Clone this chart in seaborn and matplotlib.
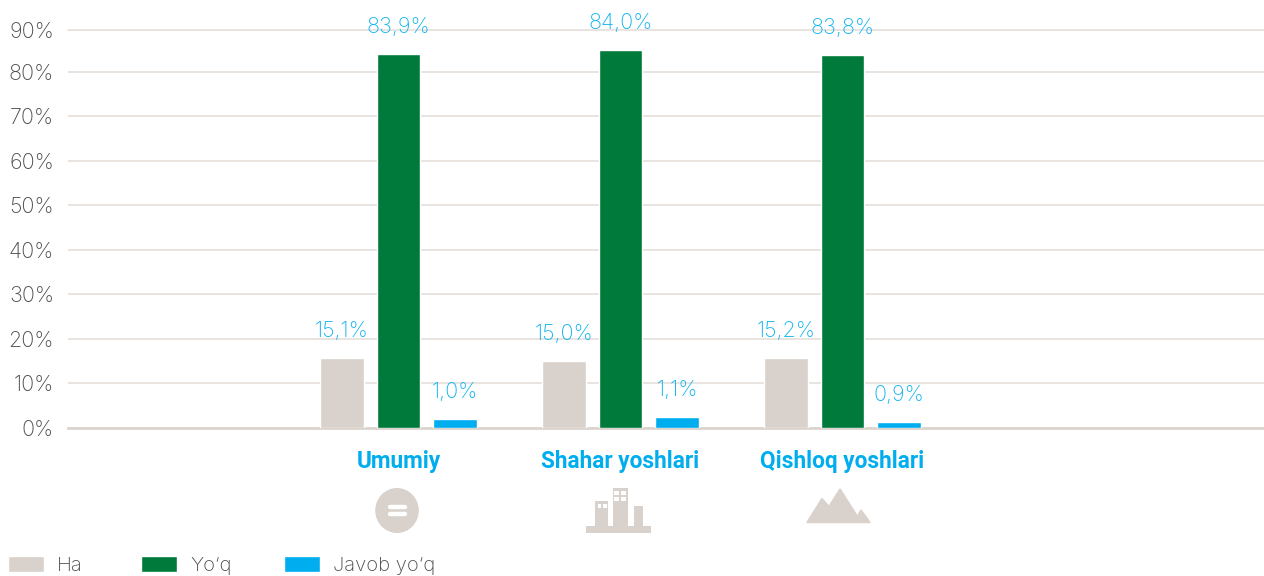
import matplotlib
matplotlib.use("Agg")
import matplotlib.pyplot as plt
import pandas as pd
import seaborn as sns
from matplotlib.lines import Line2D
from matplotlib.patches import Ellipse, Polygon, Rectangle
from matplotlib.transforms import Affine2D

categories = ["Umumiy", "Shahar yoshlari", "Qishloq yoshlari"]
series_names = ["Ha", "Yo‘q", "Javob yo‘q"]
ha_values = [15.6, 14.95, 15.6]
yoq_values = [83.9, 84.8, 83.7]
javob_values = [1.9, 2.4, 1.2]
ha_labels = ["15,1%", "15,0%", "15,2%"]
yoq_labels = ["83,9%", "84,0%", "83,8%"]
javob_labels = ["1,0%", "1,1%", "0,9%"]
y_tick_positions = [0, 10, 20, 30, 40, 50, 60, 70, 80, 89.33]
y_tick_labels = ["0%", "10%", "20%", "30%", "40%", "50%", "60%", "70%", "80%", "90%"]
colors = ["#d9d1cb", "#007a3a", "#00aeef"]

W, H = 1264, 576
sns.set_theme(style="white")
plt.rcParams["font.family"] = ["Inter", "DejaVu Sans"]
GREY, BLUE = "#4d4d4d", "#14b5f0"

df = pd.DataFrame({
    "cat": categories * 3,
    "series": [s for s in series_names for _ in categories],
    "value": ha_values + yoq_values + javob_values,
})

fig = plt.figure(figsize=(W / 100, H / 100), dpi=100)
L, R, T, B = 68, 1264, 30, 427.5
ax = fig.add_axes([L / W, 1 - B / H, (R - L) / W, (B - T) / H])
sns.barplot(data=df, x="cat", y="value", hue="series", order=categories,
            hue_order=series_names, palette=colors, width=0.7635, gap=0.235,
            saturation=1, ax=ax, errorbar=None, zorder=3)
ax.set_xlim((L - 398.5) / 222, (R - 398.5) / 222)
ax.set_ylim(0, 89.33)
ax.set_xlabel("")
ax.set_ylabel("")
ax.set_yticks(y_tick_positions, y_tick_labels)
ax.tick_params(axis="y", length=0, pad=10, labelsize=15.5, labelcolor=GREY)
ax.tick_params(axis="x", length=0, pad=16)
for lab in ax.get_xticklabels():
    lab.set(family="Roboto", weight="bold", size=16.3, color="#00aeef")
for lab in ax.get_yticklabels():
    lab.set_fontweight("light")
for s in ax.spines.values():
    s.set_visible(False)
ax.spines["bottom"].set(visible=True, color="#dcd4ce", linewidth=2)
ax.grid(axis="y", color="#e6dfda", linewidth=1.2, zorder=0)
ax.set_axisbelow(True)
ax.yaxis.get_gridlines()[-1].set_clip_on(False)

for cont, labs in zip(ax.containers, [ha_labels, yoq_labels, javob_labels]):
    ax.bar_label(cont, labels=labs, padding=12, fontsize=15.5, color=BLUE,
                 fontweight="light", annotation_clip=False)

fs = 14.5 * 100 / 72
handles, labels = ax.get_legend_handles_labels()
legend_x = [7.6, 141.2, 284.2]
for i, (h, lab, x) in enumerate(zip(handles, labels, legend_x)):
    leg = ax.legend([h], [lab], frameon=False, fontsize=14.5,
                    loc="lower left", bbox_to_anchor=(x / W, 1 / H),
                    bbox_transform=fig.transFigure, borderpad=0, borderaxespad=0,
                    handlelength=36 / fs, handleheight=16 / fs,
                    handletextpad=13 / fs, labelcolor=GREY)
    for t in leg.get_texts():
        t.set_fontweight("light")
    if i < len(handles) - 1:
        ax.add_artist(leg)

# Decorative icons, in reference pixel coordinates
px = Affine2D().scale(1, -1).translate(0, H)
def add(patch):
    patch.set_transform(px)
    fig.add_artist(patch)
TAN = "#d9d1cb"
add(Ellipse((397, 510.5), 43.5, 45, fc=TAN, ec="none"))
for y in (506.5, 514):
    add(Line2D([390, 405], [y, y], color="white", lw=3.2, solid_capstyle="round"))
for x, y, w, h in [(586, 526, 65, 7), (595, 501, 13, 26), (612.5, 488, 15, 39), (633.5, 506, 9.5, 21)]:
    add(Rectangle((x, y), w, h, fc=TAN, ec="none"))
for x, y, w, h in [(597.5, 504, 3.5, 4), (603, 504, 3.5, 4), (614, 491, 5, 4),
                   (621, 491, 5, 4), (614, 497, 5, 3.5), (621, 497, 5, 3.5)]:
    add(Rectangle((x, y), w, h, fc="white", ec="none"))
add(Polygon([(807.5, 522.2), (822, 499), (829, 507), (840, 489.5), (857.5, 517),
             (861, 510.5), (869.5, 522.2)], closed=True, fc=TAN, ec=TAN, lw=1.5,
            joinstyle="round"))

fig.savefig("out.png", dpi=100)
